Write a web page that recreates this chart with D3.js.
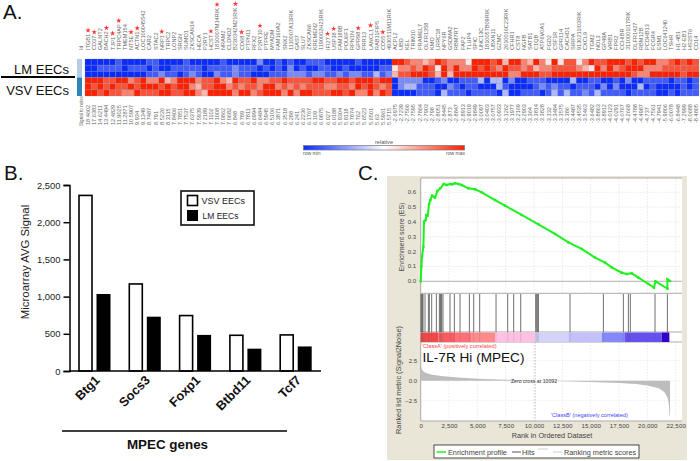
<!DOCTYPE html>
<html><head><meta charset="utf-8">
<script src="https://cdn.jsdelivr.net/npm/d3@7"></script>
<style>
html,body{margin:0;padding:0;background:#fff}
svg{display:block;font-family:"Liberation Sans",Arial,sans-serif}
</style></head><body>
<svg id="c" width="700" height="461"></svg>
<script>
// ---------- Panel A data ----------
const genes = ["ITGB1","CD37","GALNT2","BACH2","TJP1","TRPC4AP","TMEM154","NT5E","ACTN1","LOC100045542","CAR2","STAC2","NRP1","TRPC2","LONP2","SRGN","SUMO1","ZKSCAN14","HECA","P2RY1","HCST","1810007M14RIK","NRAM2","CLDND2","B230342M21RIK","CD68","PTPN11","RFX2","P2RY10","PTPRE","MYADM","FAM160A2","SNX2","1110007A13RIK","GAS7","SLU7","ZKSCAN6","KREMEN2","1190002H23RIK","IFI27","USP38","FAM189B","POU6F1","RPN1N","GPR98","PRR13","LANCL1","RAB11FIP5","CD55","4930511M11RIK",
"ACPL2","UBD","KEL","TRIM10","PRAMEL7","OLFR1358","KMO","LRRC18","NPY6R","GSDMA2","RBM7RT","FAP2","TLUP4","SPIC","UNC13C","1810057B09RIK","UBXN11","GZMC","2610016C23RIK","CFHR1","CST8","NGFB","SATB1","C1QB","ATP6V0A1","FGD2","CSF1R","GPR114","CACHD1","SIRPA","9130211I03RIK","CXCL9","TGM2","NOL3","GP49A","VIRB1","FPR2","CCHIBR","3110001I17RIK","OLFR1427","RBM12B","PCDHB13","FCGR4","ESM1","LOC641240","TSHR","H1-4B1","H2-EB1","HS3ST6","CD14"];
const starred = ["ITGB1","CD37","BACH2","TJP1","TRPC4AP","NT5E","ACTN1","NRP1","HCST","1810007M14RIK","B230342M21RIK","CD68","P2RY10","IFI27","USP38","GPR98","LANCL1","CD55"];
const signal2noise = ["18.4602","17.6383","14.6211","13.4494","12.4829","11.9025","11.2871","10.5907","9.934","9.1349","8.7487","8.791","8.5226","8.3115","7.8406","7.7851","7.7537","7.6375","7.5939","7.2189","7.1102","7.1008","7.0862","7.0682","6.848","6.789","6.7811","6.6994","6.6484","6.5945","6.5106","6.3871","6.3518","6.288","6.241","6.2236","6.1767","6.109","6.0875","6.027","6.0188","5.9304","5.8118","5.7874","5.762","5.6523","5.6501","5.63","5.5961","5.5715",
"-2.6975","-2.7239","-2.7506","-2.7595","-2.7864","-2.7903","-2.798","-2.8051","-2.8445","-2.873","-2.8847","-2.8913","-2.9019","-2.9849","-3.0097","-3.0403","-3.0757","-3.0933","-3.1262","-3.1977","-3.2169","-3.2903","-3.364","-3.3814","-3.3828","-3.332","-3.3484","-3.3575","-3.386","-3.4487","-3.4535","-3.5463","-3.6482","-3.8863","-3.8912","-4.0123","-4.0291","-4.0767","-4.2668","-4.4788","-4.4987","-4.737","-4.7561","-4.7941","-5.9806","-6.0078","-6.8448","-7.2999","-8.0688","-8.4805"];
const lmRow1 = [0,0,0,0,0,1,0,0,0,0,1,1,0,0,0,0,1,0,0,0,0,0,1,0,0, 0,0,0,2,0,0,1,0,1,0,0,1,1,1,0,0,0,0,0,1,0,0,0,0,0,
 9,9,8,7,7,6,7,9,8,7,7,7,5,9,9,9,8,9,6,9,9,7,6,9, 7,5,9,5,8,8,5,7,9,8,8,9,9,9,8,9,8,9,9,7,7,8,9,8,9,8];
const lmRow2 = [0,0,1,1,1,1,0,1,1,1,0,1,0,0,1,1,1,1,1,0,1,1,1,1,2, 1,1,1,0,1,0,1,0,2,0,1,0,0,1,1,0,0,1,0,0,0,0,0,1,1,
 5,7,7,8,7,9,8,5,9,7,9,7,7,9,8,9,8,7,9,8,8,7,8,6, 7,7,8,8,8,8,7,6,5,9,7,9,7,8,9,9,9,7,7,7,8,8,8,8,8,8];
const lmRow3 = [0,0,0,0,0,0,0,0,0,0,1,1,2,1,1,0,1,2,1,0,0,2,1,1,2, 1,1,0,0,0,1,1,1,2,2,2,1,2,2,1,1,2,1,2,2,1,1,3,1,2,
 6,8,8,9,9,9,8,6,9,6,9,9,9,9,9,9,9,9,9,7,7,9,9,9, 8,8,9,9,9,9,9,9,9,9,9,9,9,9,9,8,7,7,9,9,9,9,9,8,9,9];
const vsvRow1 = [9,9,9,8,8,9,9,7,8,9,7,7,9,6,7,9,9,9,7,8,8,9,7,6,9, 8,8,9,7,7,8,8,9,8,8,8,8,9,9,8,8,9,9,8,9,9,9,8,9,9,
 0,2,2,2,2,0,0,1,2,0,0,1,1,1,3,0,3,3,0,2,0,0,1,1, 1,0,0,0,0,3,0,0,1,1,0,0,1,0,2,0,0,1,1,1,1,0,1,1,0,1];
const vsvRow2 = [9,8,9,8,9,8,8,9,8,9,9,9,8,9,8,9,9,7,6,8,8,9,9,7,8, 7,8,8,7,9,9,7,8,7,8,7,8,8,8,7,7,8,8,7,9,8,9,8,7,8,
 0,2,3,3,1,1,1,0,0,2,1,0,1,1,0,0,0,3,1,0,0,0,0,1, 2,1,2,1,1,0,1,1,1,0,2,0,2,0,0,0,3,0,1,0,0,0,0,1,0,1];
const vsvRow3 = [9,9,8,9,8,8,7,7,9,8,8,8,9,9,8,8,9,9,7,6,9,9,9,9,7, 9,9,7,8,9,9,9,7,9,7,9,9,8,8,8,9,9,8,9,7,7,9,7,9,8,
 0,0,0,0,1,1,1,0,3,1,1,1,0,1,1,1,1,0,3,0,0,1,1,1, 0,1,3,1,3,1,1,2,1,3,1,1,1,1,0,1,1,1,1,0,0,1,0,1,1,1];
const heatRows = [lmRow1,lmRow2,lmRow3,vsvRow1,vsvRow2,vsvRow3];
const groupRows = ["LM EECs","VSV EECs"];

// ---------- Panel B data ----------
const mpecGenes = ["Btg1","Socs3","Foxp1","Btbd11","Tcf7"];
const vsvSignal = [2360,1170,745,480,485];
const lmSignal = [1035,730,485,300,330];
const signalTicks = [0,500,1000,1500,2000,2500];

// ---------- Panel C data ----------
const esRank = [0,59,118,235,294,441,500,618,735,853,1000,1265,1471,1735,2029,2294,2588,2794,3029,3324,3618,4206,4794,5382,6559,7441,8912,10382,11853,13029,14206,15382,16265,16853,17735,18176,18618,19206,20088,20588,20706,21765,21770,22000];
const esScore = [0,.099,.166,.234,.402,.413,.447,.443,.519,.548,.578,.564,.609,.627,.656,.649,.656,.654,.661,.656,.649,.627,.62,.6,.548,.51,.447,.384,.319,.263,.218,.16,.126,.094,.058,.049,.054,.025,-.018,-.043,0,-.049,.013,.002];
const hitRanks = [29,88,147,206,382,676,765,970,1382,1647,1735,1794,1853,1970,2588,2971,3471,4294,4676,5206,6647,7676,8206,8824,10147,10235,10324,10382,13176,16118,17882,18324,18500,20676,21765];
const barEdges = [0,1559,3029,4500,6559,10088,13029,15971,18029,21265,21941];
const barColors = ["#f54848","#fb5c62","#ff7078","#ff8a8a","#ffc0e2","#d4d4fb","#c4c0fb","#8488fb","#6650ee","#3200cc"];
const metricRank = [0,60,150,300,600,1000,2000,3000,5000,7500,10092,12500,15000,17500,19000,20000,21000,21500,21800,21900,21960,22000];
const metricScore = [2.1,1.6,1.3,1.1,.9,.75,.55,.42,.25,.12,0,-.07,-.15,-.28,-.42,-.6,-.95,-1.4,-2.2,-3,-4.45,-4.45];
const esTicks = [0,.1,.2,.3,.4,.5,.6];
const metricTicks = [-2.5,0,2.5];
const rankTicks = [0,2500,5000,7500,10000,12500,15000,17500,20000,22500];

const svg = d3.select("#c");
const panelLabel = (t,x,y)=>svg.append("text").attr("x",x).attr("y",y).attr("font-size",20.5).attr("fill","#111").text(t);

// ========== A ==========
panelLabel("A.",3,19);
const hx = d3.scaleBand().domain(d3.range(genes.length)).range([85,699]);
const hy = d3.scaleBand().domain(d3.range(heatRows.length)).range([59,96]);
const heatColor = d3.scaleLinear().domain([0,4.5,9]).range(["#0a2cff","#ffffff","#ff2000"]);
const A = svg.append("g");
A.selectAll("g.r").data(heatRows).join("g").attr("class","r").each(function(row,ri){
  d3.select(this).selectAll("rect").data(row).join("rect")
    .attr("x",(d,i)=>hx(i)).attr("y",hy(ri)).attr("width",hx.bandwidth()).attr("height",hy.bandwidth())
    .attr("fill",d=>heatColor(d)).attr("stroke","#8a8a8a").attr("stroke-opacity",.4).attr("stroke-width",.6);
});
const classColor = ["#b6cde4","#2f86b6"];
groupRows.forEach((g,i)=>{
  A.append("rect").attr("x",77).attr("y",i?77.5:59).attr("width",5).attr("height",18.5).attr("fill",classColor[i]);
});
A.selectAll("text.g").data(groupRows).join("text").attr("class","g")
  .attr("x",69).attr("y",(d,i)=>i?94.5:74).attr("text-anchor","end").attr("font-size",13).attr("fill","#111").text(d=>d);
A.append("line").attr("x1",1).attr("x2",75).attr("y1",77).attr("y2",77).attr("stroke","#000").attr("stroke-width",2);
const small = {size:5.6,color:"#666"};
const geneText = A.selectAll("text.t").data(genes).join("text").attr("class","t")
  .attr("transform",(d,i)=>`translate(${hx(i)+hx.bandwidth()/2+2},50) rotate(-90)`)
  .attr("font-size",small.size).attr("fill",small.color).text(d=>d);
geneText.each(function(d,i){
  if(!starred.includes(d)) return;
  const L=this.getComputedTextLength();
  A.append("path").attr("d",d3.symbol(d3.symbolStar,9)()).attr("fill","#f33")
    .attr("transform",`translate(${hx(i)+hx.bandwidth()/2},${50-L-3.5})`);
});
A.selectAll("text.s").data(signal2noise).join("text").attr("class","s")
  .attr("transform",(d,i)=>`translate(${hx(i)+hx.bandwidth()/2+2},${i<50?125:123}) rotate(-90)`)
  .attr("font-size",small.size).attr("fill",small.color).text(d=>d);
A.append("text").attr("transform","translate(83,50) rotate(-90)").attr("font-size",5).attr("fill",small.color).text("Id");
A.append("text").attr("transform","translate(83,126) rotate(-90)").attr("font-size",4.6).attr("fill",small.color).text("Signal to noise");
// colour key
const defs = svg.append("defs");
const grad = defs.append("linearGradient").attr("id","key");
[[0,"#0a2cff"],[.5,"#ffffff"],[1,"#ff2000"]].forEach(s=>grad.append("stop").attr("offset",s[0]).attr("stop-color",s[1]));
A.append("rect").attr("x",303.5).attr("y",145.5).attr("width",161).attr("height",4.5).attr("fill","url(#key)").attr("stroke","#777").attr("stroke-width",.7);
A.append("text").attr("x",384).attr("y",144).attr("text-anchor","middle").attr("font-size",5.6).attr("fill","#555").text("relative");
A.append("text").attr("x",303).attr("y",155).attr("font-size",5).attr("fill","#555").text("row min");
A.append("text").attr("x",465).attr("y",155).attr("text-anchor","end").attr("font-size",5).attr("fill","#555").text("row max");

// ========== B ==========
panelLabel("B.",4,180);
const by = d3.scaleLinear().domain([0,2500]).range([371,185]);
const bx = d3.scaleBand().domain(mpecGenes).range([70.5,322]);
const B = svg.append("g");
const BW=13, offV=8.5, offL=27;
B.selectAll("rect.v").data(vsvSignal).join("rect").attr("class","v")
  .attr("x",(d,i)=>bx(mpecGenes[i])+offV).attr("y",d=>by(d)).attr("width",BW).attr("height",d=>371-by(d))
  .attr("fill","#fff").attr("stroke","#000").attr("stroke-width",1.6);
B.selectAll("rect.l").data(lmSignal).join("rect").attr("class","l")
  .attr("x",(d,i)=>bx(mpecGenes[i])+offL-1).attr("y",d=>by(d)).attr("width",BW+1).attr("height",d=>371-by(d))
  .attr("fill","#000");
const yAx = B.append("g").attr("transform","translate(69.5,0)")
  .call(d3.axisLeft(by).tickValues(signalTicks).tickSize(6).tickPadding(3));
yAx.selectAll("path,line").attr("stroke","#000").attr("stroke-width",1.5);
yAx.selectAll("text").attr("font-size",9.4).attr("fill","#222").attr("font-family","Liberation Sans");
B.append("line").attr("x1",69).attr("x2",321).attr("y1",371).attr("y2",371).attr("stroke","#000").attr("stroke-width",1.6);
B.selectAll("text.x").data(mpecGenes).join("text").attr("class","x")
  .attr("transform",(d,i)=>`translate(${bx(d)+offL+3},${381}) rotate(-45)`)
  .attr("text-anchor","end").attr("font-size",12.8).attr("font-weight","bold").attr("fill","#111").text(d=>d);
B.append("text").attr("transform","translate(28.5,262) rotate(-90)").attr("text-anchor","middle").attr("font-size",11.4).attr("fill","#222").text("Microarray AVG Signal");
B.append("line").attr("x1",62).attr("x2",287).attr("y1",431).attr("y2",431).attr("stroke","#000").attr("stroke-width",1.7);
B.append("text").attr("x",167.5).attr("y",449).attr("text-anchor","middle").attr("font-size",13.4).attr("font-weight","bold").attr("fill","#111").text("MPEC genes");
B.append("rect").attr("x",181).attr("y",191).attr("width",73).attr("height",34).attr("fill","#fff").attr("stroke","#111").attr("stroke-width",1.6);
B.append("rect").attr("x",187.5).attr("y",195.5).attr("width",10).attr("height",10).attr("fill","#fff").attr("stroke","#000").attr("stroke-width",1.6);
B.append("rect").attr("x",187).attr("y",210).attr("width",11).attr("height",11).attr("fill","#000");
B.append("text").attr("x",201.5).attr("y",204).attr("font-size",9).attr("fill","#222").text("VSV EECs");
B.append("text").attr("x",202.5).attr("y",219).attr("font-size",8.5).attr("fill","#222").text("LM EECs");

// ========== C ==========
panelLabel("C.",358,180);
const C = svg.append("g");
C.append("rect").attr("x",387).attr("y",176).attr("width",300).attr("height",284).attr("fill","#e9e6d7");
C.append("rect").attr("x",420.7).attr("y",178).attr("width",261.3).attr("height",243).attr("fill","#fff");
const rx = d3.scaleLinear().domain([0,22500]).range([420.7,675.7]);
const ey = d3.scaleLinear().domain([0,.6]).range([281.3,192.3]);
const my = d3.scaleLinear().domain([-2.5,0,2.5]).range([400.7,380.7,360.7]);
const dash = "1.5,1.5";
// grid
C.selectAll("line.gv").data(rankTicks).join("line").attr("class","gv")
  .attr("x1",d=>rx(d)).attr("x2",d=>rx(d)).attr("y1",178).attr("y2",293).attr("stroke","#e2e2e2").attr("stroke-dasharray",dash).attr("stroke-width",.8);
C.selectAll("line.gv2").data(rankTicks).join("line").attr("class","gv2")
  .attr("x1",d=>rx(d)).attr("x2",d=>rx(d)).attr("y1",342).attr("y2",421).attr("stroke","#e6e6e6").attr("stroke-dasharray",dash).attr("stroke-width",.8);
C.selectAll("line.gh").data(esTicks).join("line").attr("class","gh")
  .attr("x1",420.7).attr("x2",682).attr("y1",d=>ey(d)).attr("y2",d=>ey(d)).attr("stroke","#e2e2e2").attr("stroke-dasharray",dash).attr("stroke-width",.8);
C.selectAll("line.gh2").data(metricTicks).join("line").attr("class","gh2")
  .attr("x1",420.7).attr("x2",682).attr("y1",d=>my(d)).attr("y2",d=>my(d)).attr("stroke","#e6e6e6").attr("stroke-dasharray",dash).attr("stroke-width",.8);
// separators
[178,293.3,332,342,421].forEach(y=>C.append("line").attr("x1",420.7).attr("x2",682).attr("y1",y).attr("y2",y).attr("stroke","#aaa").attr("stroke-width",1));
C.append("line").attr("x1",420.7).attr("x2",420.7).attr("y1",178).attr("y2",421).attr("stroke","#aaa").attr("stroke-width",1);
C.append("line").attr("x1",420.7).attr("x2",682).attr("y1",ey(0)).attr("y2",ey(0)).attr("stroke","#b5b5b5").attr("stroke-width",1);
// ES curve
const esPts = esRank.map((r,i)=>[r,esScore[i]]);
C.append("path").attr("d",d3.line().x(d=>rx(d[0])).y(d=>ey(d[1]))(esPts)).attr("fill","none").attr("stroke","#1ff01f").attr("stroke-width",2);
C.selectAll("rect.e").data(esPts).join("rect").attr("class","e")
  .attr("x",d=>rx(d[0])-1.2).attr("y",d=>ey(d[1])-1.2).attr("width",2.4).attr("height",2.4).attr("fill","#1ff01f");
// class colour bar
barColors.forEach((c,i)=>{
  C.append("rect").attr("x",rx(barEdges[i])).attr("y",332.5).attr("width",rx(barEdges[i+1])-rx(barEdges[i])).attr("height",9.5).attr("fill",c);
});
// hits
C.selectAll("line.h").data(hitRanks).join("line").attr("class","h")
  .attr("x1",d=>rx(d)).attr("x2",d=>rx(d)).attr("y1",294).attr("y2",332).attr("stroke","#606060").attr("stroke-width",.9);
C.selectAll("line.h2").data(hitRanks).join("line").attr("class","h2")
  .attr("x1",d=>rx(d)).attr("x2",d=>rx(d)).attr("y1",332.5).attr("y2",342).attr("stroke","#555").attr("stroke-opacity",.18).attr("stroke-width",.9);
// ranking metric
const metPts = metricRank.map((r,i)=>[r,metricScore[i]]);
C.append("path").attr("d",d3.area().x(d=>rx(d[0])).y0(my(0)).y1(d=>my(d[1]))(metPts)).attr("fill","#bdbdbd");
C.append("line").attr("x1",rx(10092)).attr("x2",rx(10092)).attr("y1",342).attr("y2",421).attr("stroke","#bbb").attr("stroke-dasharray","1.5,1.5").attr("stroke-width",1);
// axis tick labels
const fs={t:6,c:"#444"};
C.selectAll("text.et").data(esTicks).join("text").attr("class","et").attr("x",416).attr("y",d=>ey(d)+2).attr("text-anchor","end").attr("font-size",fs.t).attr("fill",fs.c).text(d3.format(".1f"));
C.selectAll("text.mt").data(metricTicks).join("text").attr("class","mt").attr("x",417).attr("y",d=>my(d)+2).attr("text-anchor","end").attr("font-size",fs.t).attr("fill",fs.c).text(d3.format(".1f"));
const rAx = C.append("g").attr("transform","translate(0,421)").call(d3.axisBottom(rx).tickValues(rankTicks).tickSize(0).tickPadding(3).tickFormat(d3.format(",")));
rAx.select("path").remove();
rAx.selectAll("text").attr("font-size",6.2).attr("fill",fs.c).attr("font-family","Liberation Sans").attr("letter-spacing",.1);
C.append("text").attr("x",552).attr("y",438).attr("text-anchor","middle").attr("font-size",7.3).attr("fill",fs.c).text("Rank in Ordered Dataset");
C.append("text").attr("transform","translate(403.5,237) rotate(-90)").attr("text-anchor","middle").attr("font-size",6.8).attr("fill",fs.c).text("Enrichment score (ES)");
C.append("text").attr("transform","translate(401,380) rotate(-90)").attr("text-anchor","middle").attr("font-size",7.3).attr("fill",fs.c).text("Ranked list metric (Signal2Noise)");
C.append("text").attr("x",422).attr("y",348).attr("font-size",5.6).attr("fill","#f44").text("'ClassA' (positively correlated)");
C.append("text").attr("x",551).attr("y",417).attr("font-size",5.6).attr("fill","#44f").text("'ClassB' (negatively correlated)");
C.append("text").attr("x",422.5).attr("y",362).attr("font-size",13.6).attr("fill","#111").text("IL-7R Hi (MPEC)");
C.append("text").attr("x",534).attr("y",383).attr("text-anchor","middle").attr("font-size",5.2).attr("fill","#333").text("Zero cross at 10092");
// legend
C.append("rect").attr("x",434).attr("y",445).attr("width",205).attr("height",13).attr("fill","#fff").attr("stroke","#222").attr("stroke-width",.8);
C.append("line").attr("x1",436.5).attr("x2",446).attr("y1",452).attr("y2",452).attr("stroke","#1ff01f").attr("stroke-width",1.5);
C.append("text").attr("x",448).attr("y",454.5).attr("font-size",7.3).attr("fill",fs.c).text("Enrichment profile");
C.append("line").attr("x1",512).attr("x2",521).attr("y1",452).attr("y2",452).attr("stroke","#555").attr("stroke-width",1);
C.append("text").attr("x",522).attr("y",454.5).attr("font-size",7.3).attr("fill",fs.c).text("Hits");
C.append("line").attr("x1",538).attr("x2",548).attr("y1",449).attr("y2",449).attr("stroke","#ccc").attr("stroke-width",1);
C.append("line").attr("x1",553).attr("x2",562).attr("y1",452).attr("y2",452).attr("stroke","#ccc").attr("stroke-width",1);
C.append("text").attr("x",564).attr("y",454.5).attr("font-size",7.3).attr("fill",fs.c).text("Ranking metric scores");
</script>
</body></html>
